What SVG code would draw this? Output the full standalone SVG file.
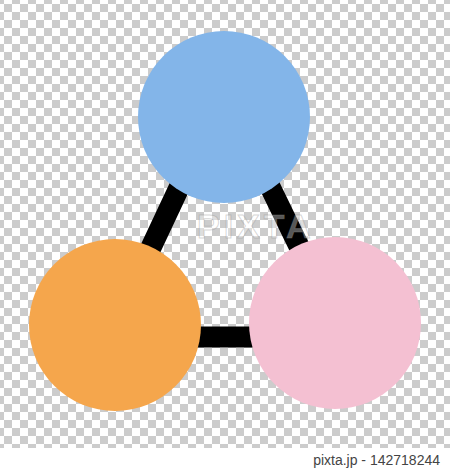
<svg xmlns="http://www.w3.org/2000/svg" width="450" height="469" viewBox="0 0 450 469">
  <defs>
    <pattern id="checker" x="-4" y="-4" width="16" height="16" patternUnits="userSpaceOnUse">
      <rect width="16" height="16" fill="#ffffff"/>
      <rect x="0" y="0" width="8" height="8" fill="#cccccc"/>
      <rect x="8" y="8" width="8" height="8" fill="#cccccc"/>
    </pattern>
    <style>
      .node { stroke: none; }
      .bar { fill: none; stroke: #000000; stroke-width: 21; stroke-linejoin: miter; }
      .credit { font-family: "Liberation Sans", Arial, sans-serif; font-size: 14px; fill: #444444; }
      .wm { font-family: "Liberation Sans", Arial, sans-serif; font-size: 34px; font-weight: bold; fill: #ffffff; fill-opacity: 0.35; stroke: #888888; stroke-opacity: 0.35; stroke-width: 1; letter-spacing: 4px; }
    </style>
  </defs>
  <rect x="0" y="0" width="450" height="469" fill="#ffffff"/>
  <rect x="0" y="0" width="450" height="448" fill="url(#checker)"/>
  <g id="connectors">
    <polygon class="bar" points="224,92 109,337 343,337"/>
  </g>
  <g id="node-blue">
    <circle class="node" cx="224" cy="117" r="86" fill="#83b5e9"/>
  </g>
  <g id="node-orange">
    <circle class="node" cx="115" cy="325" r="86" fill="#f5a64c"/>
  </g>
  <g id="node-pink">
    <circle class="node" cx="335" cy="323" r="86" fill="#f4c0d2"/>
  </g>
  <g id="watermark">
    <text class="wm" x="197" y="238">PIXTA</text>
  </g>
  <g id="credit">
    <text class="credit" x="440" y="465" text-anchor="end">pixta.jp - 142718244</text>
  </g>
</svg>
